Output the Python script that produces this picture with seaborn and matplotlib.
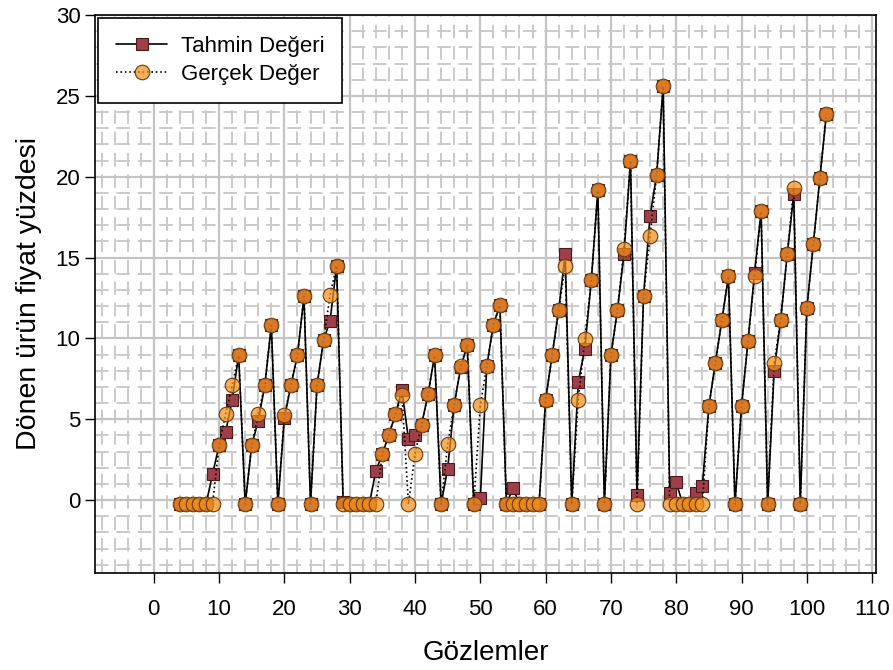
import numpy as np
import pandas as pd
import matplotlib
matplotlib.use("Agg")
import matplotlib.pyplot as plt
import seaborn as sns
from matplotlib.ticker import MultipleLocator

# Gözlem numaraları (4..103)
gozlem = list(range(4, 104))

# Tahmin değerleri
tahmin = [
    -0.25, -0.25, -0.25, -0.25, -0.25, 1.6, 3.4, 4.2, 6.2, 8.95,       # 4-13
    -0.25, 3.4, 4.9, 7.1, 10.8, -0.25, 5.1, 7.1, 8.95, 12.6,           # 14-23
    -0.25, 7.1, 9.9, 11.1, 14.5, -0.1, -0.25, -0.25, -0.25, -0.25,     # 24-33
    1.8, 2.85, 4.05, 5.3, 6.8, 3.75, 4.0, 4.65, 6.55, 8.95,            # 34-43
    -0.25, 1.95, 5.9, 8.2, 9.6, -0.25, 0.1, 8.3, 10.85, 12.05,         # 44-53
    -0.25, 0.75, -0.25, -0.25, -0.25, -0.25, 6.2, 8.95, 11.75, 15.2,   # 54-63
    -0.25, 7.3, 9.35, 13.6, 19.15, -0.25, 8.95, 11.75, 15.2, 21.0,     # 64-73
    0.3, 12.65, 17.6, 20.1, 25.6, 0.45, 1.1, -0.25, -0.25, 0.45,       # 74-83
    0.9, 5.8, 8.5, 11.15, 13.85, -0.25, 5.8, 9.85, 14.05, 17.85,       # 84-93
    -0.25, 8.0, 11.15, 15.2, 18.9, -0.25, 11.85, 15.85, 19.9, 23.9,    # 94-103
]

# Gerçek değerler
gercek = [
    -0.25, -0.25, -0.25, -0.25, -0.25, -0.25, 3.4, 5.3, 7.1, 8.95,     # 4-13
    -0.25, 3.4, 5.3, 7.1, 10.8, -0.25, 5.25, 7.1, 8.95, 12.6,          # 14-23
    -0.25, 7.1, 9.9, 12.7, 14.5, -0.25, -0.25, -0.25, -0.25, -0.25,    # 24-33
    -0.25, 2.85, 4.05, 5.3, 6.5, -0.25, 2.85, 4.65, 6.55, 8.95,        # 34-43
    -0.25, 3.45, 5.9, 8.3, 9.6, -0.25, 5.85, 8.3, 10.85, 12.05,        # 44-53
    -0.25, -0.25, -0.25, -0.25, -0.25, -0.25, 6.2, 8.95, 11.75, 14.5,  # 54-63
    -0.25, 6.2, 9.95, 13.6, 19.15, -0.25, 8.95, 11.75, 15.5, 21.0,     # 64-73
    -0.25, 12.65, 16.35, 20.1, 25.6, -0.25, -0.25, -0.25, -0.25, -0.25,  # 74-83
    -0.25, 5.8, 8.5, 11.15, 13.85, -0.25, 5.8, 9.85, 13.85, 17.85,     # 84-93
    -0.25, 8.5, 11.15, 15.2, 19.3, -0.25, 11.85, 15.85, 19.9, 23.9,    # 94-103
]

df = pd.DataFrame({"Gözlemler": gozlem, "Tahmin": tahmin, "Gercek": gercek})

sns.set_style("white")
plt.rcParams["font.family"] = ["Liberation Sans", "DejaVu Sans"]
plt.rcParams["text.color"] = "black"
plt.rcParams["axes.labelcolor"] = "black"
plt.rcParams["xtick.color"] = "black"
plt.rcParams["ytick.color"] = "black"

fig = plt.figure(figsize=(8.93, 6.7), dpi=100)
ax = fig.add_axes([0.1064, 0.145, 0.8746, 0.8326])

# Izgara
ax.xaxis.set_major_locator(MultipleLocator(10))
ax.yaxis.set_major_locator(MultipleLocator(5))
ax.xaxis.set_minor_locator(MultipleLocator(2))
ax.yaxis.set_minor_locator(MultipleLocator(1))
ax.grid(True, which="major", color="#c4c4c4", linewidth=1.6, linestyle="-")
ax.grid(True, which="minor", color="#cacaca", linewidth=1.4, linestyle=(0, (7, 4)))
ax.set_axisbelow(True)

sns.lineplot(data=df, x="Gözlemler", y="Tahmin", ax=ax, color="black", linewidth=1.2,
             marker="s", markersize=9, markerfacecolor="#9e3f4a", markeredgecolor="#4a1a1a",
             markeredgewidth=0.8, label="Tahmin Değeri", zorder=3)
sns.lineplot(data=df, x="Gözlemler", y="Gercek", ax=ax, color="black", linewidth=1.2,
             linestyle=":", marker="o", markersize=10.5,
             markerfacecolor=(0.95, 0.565, 0.10, 0.72), markeredgecolor="#6b3a10",
             markeredgewidth=0.8, label="Gerçek Değer", zorder=4)

ax.set_xlim(-9, 110.6)
ax.set_ylim(-4.5, 30)
ax.set_xticks(range(0, 111, 10))
ax.set_yticks(range(0, 31, 5))

for s in ax.spines.values():
    s.set_color("black")
    s.set_linewidth(1.2)

ax.tick_params(axis="both", which="major", direction="out", length=7, width=1,
               color="black", labelcolor="black", labelsize=16, bottom=True, left=True)
ax.tick_params(axis="both", which="minor", length=0)
ax.tick_params(axis="x", pad=12)

ax.set_xlabel("Gözlemler", fontsize=20, labelpad=14, color="black")
ax.set_ylabel("Dönen ürün fiyat yüzdesi", fontsize=20.5, labelpad=10, color="black")

leg = ax.legend(loc="upper left", fontsize=16, frameon=True, fancybox=False,
                edgecolor="black", framealpha=1, handlelength=2.3,
                borderaxespad=0.15, borderpad=0.8, labelspacing=0.3, handletextpad=0.6)
leg.get_frame().set_linewidth(1.2)
for t in leg.get_texts():
    t.set_color("black")

fig.savefig("out.png", dpi=100)
